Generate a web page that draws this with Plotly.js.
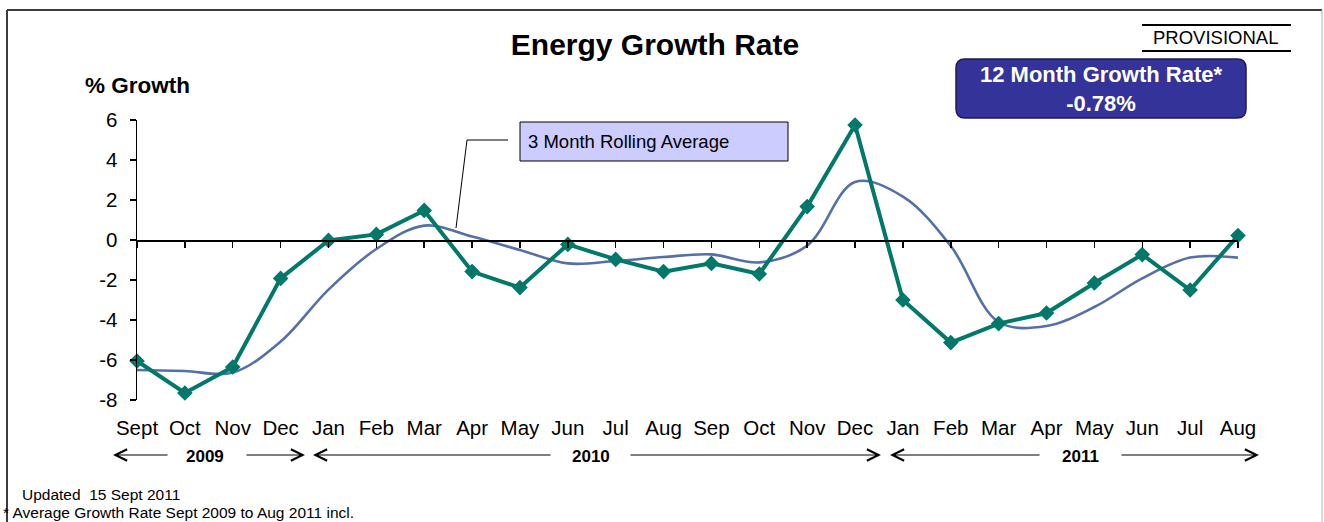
<!DOCTYPE html>
<html>
<head>
<meta charset="utf-8">
<script src="https://cdn.plot.ly/plotly-3.0.1.min.js"></script>
<style>html,body{margin:0;padding:0;background:#fff;}#chart{width:1324px;height:522px;}</style>
</head>
<body>
<div id="chart"></div>
<script>
// ---- data ----
const categories = ['Sep 2009','Oct 2009','Nov 2009','Dec 2009','Jan 2010','Feb 2010','Mar 2010','Apr 2010','May 2010','Jun 2010','Jul 2010','Aug 2010','Sep 2010','Oct 2010','Nov 2010','Dec 2010','Jan 2011','Feb 2011','Mar 2011','Apr 2011','May 2011','Jun 2011','Jul 2011','Aug 2011'];
const monthLabels = ['Sept','Oct','Nov','Dec','Jan','Feb','Mar','Apr','May','Jun','Jul','Aug','Sep','Oct','Nov','Dec','Jan','Feb','Mar','Apr','May','Jun','Jul','Aug'];
const growthRate = [-6.05,-7.65,-6.35,-1.92,-0.02,0.28,1.48,-1.58,-2.38,-0.22,-0.97,-1.58,-1.17,-1.70,1.67,5.75,-3.00,-5.13,-4.18,-3.65,-2.15,-0.73,-2.50,0.22];
const rollingAvg = [-6.50,-6.55,-6.63,-5.08,-2.48,-0.45,0.72,0.17,-0.50,-1.17,-1.05,-0.85,-0.72,-1.12,-0.28,2.90,2.17,-0.30,-4.10,-4.30,-3.35,-1.92,-0.88,-0.88];
const yTicks = [-8,-6,-4,-2,0,2,4,6];
const yTickText = ['-8','-6','-4','-2','0','2','4','6'];
const years = ['2009','2010','2011'];
const titleText = 'Energy Growth Rate';
const yTitle = '% Growth';
const rollingLabel = '3 Month Rolling Average';
const provisional = 'PROVISIONAL';
const growthBox = ['12 Month Growth Rate*','-0.78%'];
const footnotes = ['Updated  15 Sept 2011','* Average Growth Rate Sept 2009 to Aug 2011 incl.'];

// ---- layout helpers (pixel -> paper) ----
const L = 137, R = 1238, T = 120, B = 400;
const PX = x => (x - L) / (R - L);
const PY = y => (B - y) / (B - T);
const FONT = 'Arial, "Liberation Sans", sans-serif';

const traces = [
  {x: categories, y: rollingAvg, type: 'scatter', mode: 'lines',
   line: {color: '#5470a6', width: 2.6, shape: 'spline', smoothing: 1},
   cliponaxis: false, hoverinfo: 'skip'},
  {x: categories, y: growthRate, type: 'scatter', mode: 'lines+markers',
   line: {color: '#00786a', width: 4},
   marker: {symbol: 'diamond', size: 12, color: '#00786a'},
   cliponaxis: false, hoverinfo: 'skip'}
];

function arrow(headX, tailX, y) {
  return {xref: 'paper', yref: 'paper', x: PX(headX), y: PY(y), text: '',
    showarrow: true, ax: tailX - headX, ay: 0, axref: 'pixel', ayref: 'pixel',
    arrowhead: 5, arrowsize: 1.9, arrowwidth: 1.2, arrowcolor: '#000', standoff: 0, startstandoff: 0};
}
const yearPos = [[205, 113, 169, 245, 305], [591, 313, 552, 629, 881], [1080, 890, 1041, 1120, 1259]];
const annotations = [];
yearPos.forEach((p, i) => {
  annotations.push({xref: 'paper', yref: 'paper', x: PX(p[0]), y: PY(456), text: '<b>' + years[i] + '</b>',
    showarrow: false, xanchor: 'center', yanchor: 'middle', font: {family: FONT, size: 17, color: '#000'}});
  annotations.push(arrow(p[1], p[2], 455));
  annotations.push(arrow(p[4], p[3], 455));
});
annotations.push(
  {xref: 'paper', yref: 'paper', x: PX(83), y: PY(85), text: '<b>' + yTitle + '</b>', showarrow: false,
   xanchor: 'left', yanchor: 'middle', font: {family: FONT, size: 22.5, color: '#000'}},
  {xref: 'paper', yref: 'paper', x: PX(526), y: PY(141), text: rollingLabel, showarrow: false,
   xanchor: 'left', yanchor: 'middle', font: {family: FONT, size: 18.5, color: '#000'}},
  {xref: 'paper', yref: 'paper', x: PX(1215), y: PY(37.5), text: provisional, showarrow: false,
   xanchor: 'center', yanchor: 'middle', font: {family: FONT, size: 18.5, color: '#000'}},
  {xref: 'paper', yref: 'paper', x: PX(1101), y: PY(89), text: '<b>' + growthBox.join('<br>') + '</b>', showarrow: false,
   xanchor: 'center', yanchor: 'middle', font: {family: FONT, size: 22, color: '#fff'}},
  {xref: 'paper', yref: 'paper', x: PX(20), y: PY(494), text: footnotes[0], showarrow: false,
   xanchor: 'left', yanchor: 'middle', font: {family: FONT, size: 15.5, color: '#000'}},
  {xref: 'paper', yref: 'paper', x: PX(1), y: PY(512), text: footnotes[1], showarrow: false,
   xanchor: 'left', yanchor: 'middle', font: {family: FONT, size: 15.5, color: '#000'}}
);

function roundRect(x0, y0, x1, y1, r) {
  const a = PX(x0), b = PX(x1), c = PY(y0), d = PY(y1);
  const rx = r / (R - L), ry = r / (B - T);
  return `M${a+rx},${c} L${b-rx},${c} Q${b},${c} ${b},${c-ry} L${b},${d+ry} Q${b},${d} ${b-rx},${d} L${a+rx},${d} Q${a},${d} ${a},${d+ry} L${a},${c-ry} Q${a},${c} ${a+rx},${c} Z`;
}

const shapes = [
  // outer frame
  {type: 'line', xref: 'paper', yref: 'paper', x0: PX(7), x1: PX(7), y0: PY(10), y1: PY(540), line: {color: '#3c3c3c', width: 2}},
  {type: 'line', xref: 'paper', yref: 'paper', x0: PX(7), x1: PX(1322), y0: PY(10), y1: PY(10), line: {color: '#3c3c3c', width: 2}},
  {type: 'line', xref: 'paper', yref: 'paper', x0: PX(1322), x1: PX(1322), y0: PY(10), y1: PY(540), line: {color: '#b0b0b0', width: 1}},
  // rolling average label box and leader
  {type: 'rect', xref: 'paper', yref: 'paper', x0: PX(520), x1: PX(788), y0: PY(122), y1: PY(161),
   fillcolor: '#ccccff', line: {color: '#000', width: 1}},
  {type: 'path', xref: 'paper', yref: 'paper',
   path: `M${PX(508)},${PY(140)} L${PX(467)},${PY(140)} L${PX(456)},${PY(228)}`, line: {color: '#000', width: 1}},
  // provisional lines
  {type: 'line', xref: 'paper', yref: 'paper', x0: PX(1142), x1: PX(1291), y0: PY(25), y1: PY(25), line: {color: '#000', width: 2}},
  {type: 'line', xref: 'paper', yref: 'paper', x0: PX(1142), x1: PX(1291), y0: PY(51), y1: PY(51), line: {color: '#000', width: 2}},
  // 12 month box
  {type: 'path', xref: 'paper', yref: 'paper', path: roundRect(956, 59, 1246, 118, 9),
   fillcolor: '#333399', line: {color: '#1c1c50', width: 1.5}}
];

const layout = {
  width: 1324, height: 522,
  margin: {l: L, r: 1324 - R, t: T, b: 522 - B, pad: 0},
  paper_bgcolor: '#fff', plot_bgcolor: 'rgba(0,0,0,0)',
  showlegend: false,
  font: {family: FONT, color: '#000'},
  title: {text: '<b>' + titleText + '</b>', x: 655 / 1324, xref: 'container', y: 1 - 44 / 522, yref: 'container',
          xanchor: 'center', yanchor: 'middle', font: {family: FONT, size: 30, color: '#000'}},
  xaxis: {type: 'category', categoryarray: categories, categoryorder: 'array', range: [0, categories.length - 1],
          anchor: 'free', position: PY(240), showline: true, linecolor: '#000', linewidth: 1.5,
          ticks: 'outside', ticklen: 6, tickwidth: 1.5, tickcolor: '#000',
          tickmode: 'array', tickvals: categories, ticktext: monthLabels, tickangle: 0,
          tickfont: {family: FONT, size: 20.5, color: '#000'}, ticklabelstandoff: 163,
          showgrid: false, zeroline: false, fixedrange: true},
  yaxis: {range: [-8, 6], tickmode: 'array', tickvals: yTicks, ticktext: yTickText, ticks: 'outside', ticklen: 6, tickwidth: 1.5, tickcolor: '#000',
          showline: true, linecolor: '#000', linewidth: 1.5, showgrid: false, zeroline: false,
          tickfont: {family: FONT, size: 20.5, color: '#000'}, ticklabelstandoff: 8, fixedrange: true},
  annotations: annotations,
  shapes: shapes
};

Plotly.newPlot('chart', traces, layout, {displayModeBar: false, staticPlot: true});
</script>
</body>
</html>
